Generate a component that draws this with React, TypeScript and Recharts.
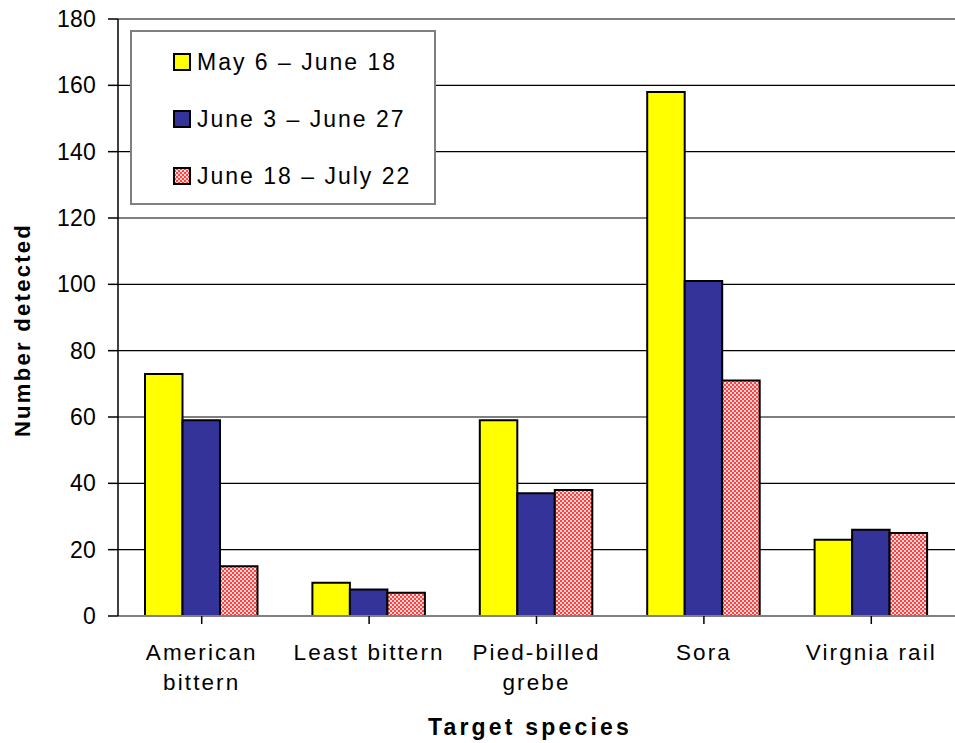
import React from "react";
import {
  BarChart,
  Bar,
  XAxis,
  YAxis,
  CartesianGrid,
  Customized,
} from "recharts";

// Species surveyed (line breaks mark where the axis label wraps)
const species = ["American\nbittern", "Least bittern", "Pied-billed\ngrebe", "Sora", "Virgnia rail"];
// Birds detected in each survey window
const mayToJune = [73, 10, 59, 158, 23];
const juneToJune = [59, 8, 37, 101, 26];
const juneToJuly = [15, 7, 38, 71, 25];
const seriesNames = ["May 6 \u2013 June 18", "June 3 \u2013 June 27", "June 18 \u2013 July 22"];
const yTicks = [0, 20, 40, 60, 80, 100, 120, 140, 160, 180];

const data = species.map((name, i) => ({
  name,
  s1: mayToJune[i],
  s2: juneToJune[i],
  s3: juneToJuly[i],
}));

const FONT = "'Liberation Sans', Arial, Helvetica, sans-serif";
const fills = ["#ffff00", "#333399", "url(#pinkCheck)"];

const CategoryTick = (props: any) => {
  const { x, y, payload } = props;
  const lines = String(payload.value).split("\n");
  return (
    <g transform={`translate(${x},${y})`}>
      {lines.map((ln, i) => (
        <text
          key={i}
          x={0}
          y={34 + i * 30}
          textAnchor="middle"
          fontFamily={FONT}
          fontSize={22.5}
          letterSpacing={2.1}
          fill="#000"
        >
          {ln}
        </text>
      ))}
    </g>
  );
};

const ValueTick = (props: any) => {
  const { x, y, payload } = props;
  return (
    <text
      x={x}
      y={y + 8}
      textAnchor="end"
      fontFamily={FONT}
      fontSize={23}
      letterSpacing={0.2}
      fill="#000"
    >
      {payload.value}
    </text>
  );
};

const Decorations = () => (
  <g>
    {/* legend box */}
    <rect x={131} y={31} width={304} height={173} fill="#fff" stroke="#808080" strokeWidth={2} />
    {seriesNames.map((nm, i) => {
      const cy = 62 + i * 57;
      return (
        <g key={nm}>
          <rect x={174} y={cy - 8} width={16} height={16} fill={fills[i]} stroke="#000" strokeWidth={2} />
          <text x={197} y={cy + 8} fontFamily={FONT} fontSize={23} letterSpacing={2} fill="#000">
            {nm}
          </text>
        </g>
      );
    })}
    {/* axis titles */}
    <text
      x={530}
      y={735}
      textAnchor="middle"
      fontFamily={FONT}
      fontSize={23}
      fontWeight="bold"
      letterSpacing={3.2}
      fill="#000"
    >
      Target species
    </text>
    <text
      transform="translate(30,330) rotate(-90)"
      textAnchor="middle"
      fontFamily={FONT}
      fontSize={22}
      fontWeight="bold"
      letterSpacing={2.3}
      fill="#000"
    >
      Number detected
    </text>
  </g>
);

export default function App() {
  return (
    <div style={{ position: "absolute", left: 0, top: 0, background: "#fff" }}>
      <BarChart
        width={955}
        height={743}
        data={data}
        margin={{ top: 19, right: 0, bottom: 0, left: 0 }}
        barGap={0}
        barSize={37.5}
      >
        <defs>
          <pattern id="pinkCheck" width="4" height="4" patternUnits="userSpaceOnUse">
            <rect width="4" height="4" fill="#ffd6d6" />
            <rect x="0" y="0" width="2" height="2" fill="#ff4040" />
            <rect x="2" y="2" width="2" height="2" fill="#ff4040" />
          </pattern>
        </defs>
        <CartesianGrid vertical={false} stroke="#000" strokeWidth={1.2} />
        <XAxis
          dataKey="name"
          height={127}
          tick={<CategoryTick />}
          tickSize={8}
          axisLine={{ stroke: "#808080", strokeWidth: 2 }}
          tickLine={{ stroke: "#000", strokeWidth: 1.5 }}
          interval={0}
        />
        <YAxis
          width={118}
          domain={[0, 180]}
          ticks={yTicks}
          tick={<ValueTick />}
          tickSize={10}
          tickMargin={12}
          axisLine={{ stroke: "#000", strokeWidth: 1.5 }}
          tickLine={{ stroke: "#000", strokeWidth: 1.5 }}
          interval={0}
        />
        <Bar dataKey="s1" name={seriesNames[0]} fill={fills[0]} stroke="#000" strokeWidth={2} isAnimationActive={false} />
        <Bar dataKey="s2" name={seriesNames[1]} fill={fills[1]} stroke="#000" strokeWidth={2} isAnimationActive={false} />
        <Bar dataKey="s3" name={seriesNames[2]} fill={fills[2]} stroke="#000" strokeWidth={2} isAnimationActive={false} />
        <Customized component={Decorations} />
      </BarChart>
    </div>
  );
}
